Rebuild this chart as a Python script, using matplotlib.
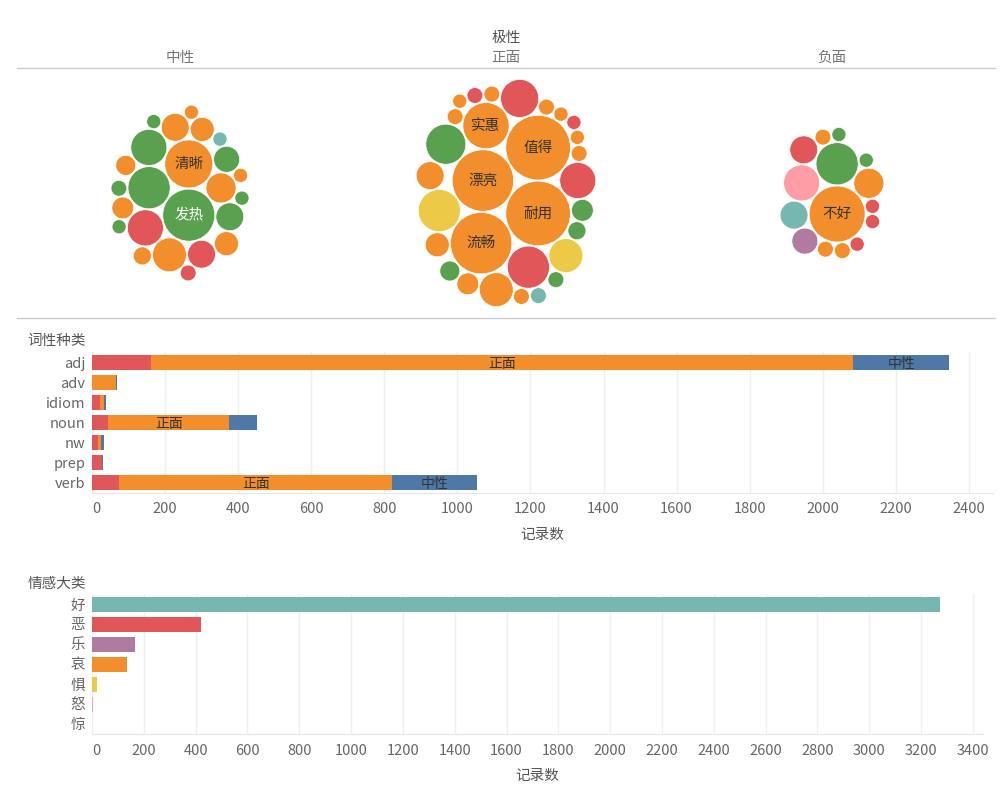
import numpy as np
import matplotlib.pyplot as plt
from matplotlib.patches import Circle

plt.rcParams['font.family'] = ['Noto Sans CJK SC', 'DejaVu Sans']

# ---- data ----
polarities = ['中性', '正面', '负面']

# packed bubbles: word counts, colour keys and (visible) labels per polarity
neutral_counts = [108, 71, 92, 46, 52, 31, 10, 8, 31, 23, 8, 23, 19, 10, 8, 16, 36, 13, 8, 8, 8, 27, 31, 52]
neutral_colors = ['g', 'g', 'o', 'o', 'r', 'r', 'r', 't', 'o', 'o', 'g', 'o', 'o', 'g', 'g', 'o', 'o', 'o', 'o', 'o', 'g', 'g', 'g', 'g']
neutral_labels = ['发热', '', '清晰'] + [''] * 21

positive_counts = [71, 58, 52, 71, 151, 85, 13, 8, 8, 46, 10, 167, 167, 10, 10, 31, 10, 10, 8, 23, 151, 19, 10, 46, 10, 8, 10, 16, 19, 64]
positive_colors = ['r', 'r', 'r', 'y', 'o', 'o', 'g', 'o', 'o', 'o', 'o', 'o', 'o', 'o', 'o', 'o', 'o', 'o', 'o', 'o', 'o', 'o', 'g', 'y', 'r', 'r', 't', 'g', 'g', 'g']
positive_labels = ['', '', '', '', '漂亮', '实惠', '', '', '', '', '', '耐用', '值得', '', '', '', '', '', '', '', '流畅'] + [''] * 9

negative_counts = [31, 8, 10, 10, 27, 125, 36, 31, 8, 8, 10, 8, 8, 71, 52]
negative_colors = ['t', 'r', 'o', 'o', 'p', 'o', 'o', 'r', 'g', 'g', 'o', 'r', 'r', 'g', 'k']
negative_labels = ['', '', '', '', '', '不好'] + [''] * 9

# stacked bars: word type x polarity
word_types = ['adj', 'adv', 'idiom', 'noun', 'nw', 'prep', 'verb']
neg_by_type = [162, 0, 23, 45, 17, 27, 75]
pos_by_type = [1921, 66, 11, 331, 8, 0, 747]
neu_by_type = [263, 3, 5, 76, 9, 4, 232]

# emotion categories
emotions = ['好', '恶', '乐', '哀', '惧', '怒', '惊']
emotion_counts = [3273, 422, 167, 136, 20, 5, 1]

palette = {'g': '#59A14F', 'o': '#F28E2B', 'r': '#E15759', 't': '#76B7B2',
           'y': '#EDC948', 'p': '#B07AA1', 'k': '#FF9DA7', 'b': '#4E79A7', 'n': '#9C755F'}
emotion_colors = ['t', 'r', 'p', 'o', 'y', 'k', 'n']

GREY = '#666666'
FS = 10.5


def pack_circles(radii, gap=1.2, xstretch=1.3):
    radii = np.asarray(radii, float)
    order = np.argsort(-radii, kind='stable')
    cx = np.zeros(len(radii))
    cy = np.zeros(len(radii))
    placed = []
    angles = np.linspace(0, 2 * np.pi, 72, endpoint=False)
    for idx in order:
        r = radii[idx]
        if not placed:
            placed.append(idx)
            continue
        px, py, pr = cx[placed], cy[placed], radii[placed]
        w = pr ** 2
        gx, gy = np.sum(px * w) / w.sum(), np.sum(py * w) / w.sum()
        cands = []
        for x0, y0, r0 in zip(px, py, pr):
            d = r0 + r + gap
            cands.append(np.column_stack([x0 + d * np.cos(angles), y0 + d * np.sin(angles)]))
        n = len(placed)
        for a in range(n):
            for b in range(a + 1, n):
                ra, rb = pr[a] + r + gap, pr[b] + r + gap
                dx, dy = px[b] - px[a], py[b] - py[a]
                d = np.hypot(dx, dy)
                if d == 0 or d > ra + rb or d < abs(ra - rb):
                    continue
                l = (ra ** 2 - rb ** 2 + d ** 2) / (2 * d)
                h = np.sqrt(max(ra ** 2 - l ** 2, 0))
                mx, my = px[a] + l * dx / d, py[a] + l * dy / d
                cands.append(np.array([[mx - h * dy / d, my + h * dx / d],
                                       [mx + h * dy / d, my - h * dx / d]]))
        cands = np.vstack(cands)
        dist = np.hypot(cands[:, None, 0] - px[None, :], cands[:, None, 1] - py[None, :])
        ok = np.all(dist >= pr[None, :] + r + gap - 1e-6, axis=1)
        cands = cands[ok]
        score = np.hypot((cands[:, 0] - gx) * xstretch, cands[:, 1] - gy)
        best = cands[np.argmin(score)]
        cx[idx], cy[idx] = best
        placed.append(idx)
    return cx, cy


fig = plt.figure(figsize=(10, 8), dpi=100)

# ---- packed bubbles ----
PANE_W, PANE_H = 978, 250
ax1 = fig.add_axes([0.017, 1 - 318 / 800, PANE_W / 1000, PANE_H / 800])
ax1.set_xlim(0, PANE_W)
ax1.set_ylim(0, PANE_H)
ax1.set_axis_off()

scale = 2.5  # px per sqrt(count)
groups = [(neutral_counts, neutral_colors, neutral_labels),
          (positive_counts, positive_colors, positive_labels),
          (negative_counts, negative_colors, negative_labels)]
col_w = PANE_W / len(polarities)
for i, (counts, cols, labels) in enumerate(groups):
    radii = scale * np.sqrt(np.asarray(counts, float))
    cx, cy = pack_circles(radii)
    ox = (i + 0.5) * col_w - (np.max(cx + radii) + np.min(cx - radii)) / 2
    oy = PANE_H / 2 - (np.max(cy + radii) + np.min(cy - radii)) / 2
    for x, y, r, c, lab in zip(cx + ox, cy + oy, radii, cols, labels):
        ax1.add_patch(Circle((x, y), r, facecolor=palette[c], edgecolor='white', lw=0.5))
        if lab:
            ax1.text(x, y, lab, ha='center', va='center', fontsize=FS,
                     color='white' if c == 'g' else '#333333')
    ax1.text((i + 0.5) * col_w, 260, polarities[i], ha='center', va='center',
             fontsize=FS, color='#777777', clip_on=False)
ax1.text(PANE_W / 2, 280, '极性', ha='center', va='center', fontsize=FS, color='#555555')
for yy in (0, PANE_H):
    ax1.axhline(yy, color='#cccccc', lw=1, clip_on=False)


def style_bar_axes(ax, cats, xmax, tick_max):
    ax.set_ylim(len(cats) - 0.5, -0.5)
    ax.set_yticks(range(len(cats)))
    ax.set_yticklabels(cats)
    ax.set_xlim(0, xmax)
    ax.set_xticks(range(0, tick_max + 1, 200))
    ax.grid(axis='x', color='#efefef', lw=1)
    ax.set_axisbelow(True)
    for s in ('top', 'right', 'left'):
        ax.spines[s].set_visible(False)
    ax.spines['bottom'].set_color('#e6e6e6')
    ax.tick_params(length=0, labelsize=FS, labelcolor=GREY)
    ax.tick_params(axis='x', pad=7)
    ax.tick_params(axis='y', pad=5)
    ax.get_xticklabels()[0].set_horizontalalignment('left')
    ax.set_xlabel('记录数', fontsize=FS, color='#555555', labelpad=8)


# ---- word type stacked bars ----
ax2 = fig.add_axes([0.092, 1 - 492.7 / 800, 0.901, 140.7 / 800])
ypos = np.arange(len(word_types))
left = np.zeros(len(word_types))
for vals, c, name in zip([neg_by_type, pos_by_type, neu_by_type], ['r', 'o', 'b'], ['负面', '正面', '中性']):
    vals = np.asarray(vals, float)
    ax2.barh(ypos, vals, left=left, height=0.75, color=palette[c])
    for y, l, v in zip(ypos, left, vals):
        if v >= 200:
            ax2.text(l + v / 2, y + 0.08, name, ha='center', va='center', fontsize=10, color='#333333')
    left += vals
style_bar_axes(ax2, word_types, 2466, 2400)
fig.text(0.086, 1 - 341 / 800, '词性种类', ha='right', va='center', fontsize=FS, color='#555555')

# ---- emotion bars ----
ax3 = fig.add_axes([0.092, 1 - 734 / 800, 0.891, 140 / 800])
ax3.barh(np.arange(len(emotions)), emotion_counts, height=0.75,
         color=[palette[c] for c in emotion_colors])
style_bar_axes(ax3, emotions, 3439, 3400)
fig.text(0.086, 1 - 584 / 800, '情感大类', ha='right', va='center', fontsize=FS, color='#555555')

fig.savefig('out.png', dpi=100)
